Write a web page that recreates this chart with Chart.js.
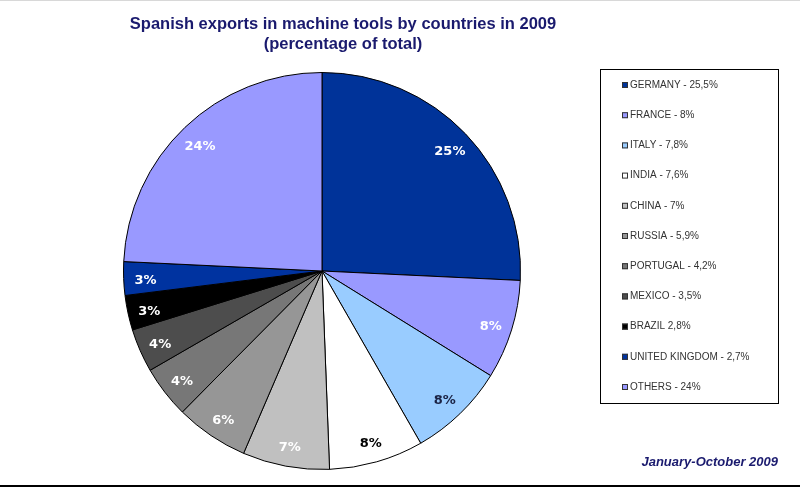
<!DOCTYPE html>
<html>
<head>
<meta charset="utf-8">
<script src="https://cdn.jsdelivr.net/npm/chart.js@4/dist/chart.umd.min.js"></script>
<style>
  html, body { margin:0; padding:0; background:#fff; }
  #wrap { position:relative; width:800px; height:487px; }
  #top { position:absolute; left:0; top:0; width:800px; height:1px; background:#d8d8d8; }
  #bottom { position:absolute; left:0; top:485px; width:800px; height:2px; background:#000; }
</style>
</head>
<body>
<div id="wrap">
  <canvas id="c" width="800" height="487"></canvas>
  <div id="top"></div>
  <div id="bottom"></div>
</div>
<script>
// data
const countries = ['GERMANY - 25,5%', 'FRANCE - 8%', 'ITALY - 7,8%', 'INDIA - 7,6%', 'CHINA - 7%',
  'RUSSIA - 5,9%', 'PORTUGAL - 4,2%', 'MEXICO - 3,5%', 'BRAZIL 2,8%', 'UNITED KINGDOM - 2,7%', 'OTHERS - 24%'];
const shares = [25.5, 8, 7.8, 7.6, 7, 5.9, 4.2, 3.5, 2.8, 2.7, 24];
const sliceLabels = ['25%', '8%', '8%', '8%', '7%', '6%', '4%', '4%', '3%', '3%', '24%'];
const sliceColors = ['#003399', '#9999ff', '#99ccff', '#ffffff', '#c0c0c0', '#969696',
  '#777777', '#4d4d4d', '#000000', '#0033a0', '#9999ff'];
const labelColors = ['#fff', '#fff', '#1a2244', '#000', '#fff', '#fff', '#fff', '#fff', '#fff', '#fff', '#fff'];

// slice percentages
const sliceText = {
  id: 'sliceText',
  afterDatasetsDraw(chart) {
    const ctx = chart.ctx;
    ctx.save();
    ctx.font = 'bold 13px "DejaVu Sans"';
    ctx.textAlign = 'center';
    ctx.textBaseline = 'middle';
    chart.getDatasetMeta(0).data.forEach((arc, i) => {
      const p = arc.getProps(['x', 'y', 'startAngle', 'endAngle', 'outerRadius'], true);
      const a = (p.startAngle + p.endAngle) / 2;
      const r = p.outerRadius * 0.89;
      ctx.fillStyle = labelColors[i];
      ctx.fillText(sliceLabels[i], p.x + Math.cos(a) * r, p.y + Math.sin(a) * r + 3);
    });
    ctx.restore();
  }
};

// titles, boxed legend, date note
const decor = {
  id: 'decor',
  afterDraw(chart) {
    const ctx = chart.ctx;
    ctx.save();
    ctx.fillStyle = '#1a1a6e';
    ctx.textAlign = 'center';
    ctx.textBaseline = 'middle';
    ctx.font = 'bold 16.5px "Liberation Sans", Arial';
    ctx.fillText('Spanish exports in machine tools by countries in 2009', 343, 24);
    ctx.fillText('(percentage of total)', 343, 44);

    ctx.font = 'italic bold 13px "Liberation Sans", Arial';
    ctx.textAlign = 'right';
    ctx.fillText('January-October 2009', 778, 462);

    // legend box
    ctx.strokeStyle = '#000';
    ctx.lineWidth = 1;
    ctx.strokeRect(600.5, 69.5, 178, 334);
    ctx.font = '10px "Liberation Sans", Arial';
    ctx.textAlign = 'left';
    countries.forEach((name, i) => {
      const y = 85 + i * 30.2;
      ctx.fillStyle = sliceColors[i];
      ctx.fillRect(622, y - 3, 6, 6);
      ctx.strokeStyle = '#333';
      ctx.strokeRect(622.5, y - 2.5, 5, 5);
      ctx.fillStyle = '#333';
      ctx.fillText(name, 630, y);
    });
    ctx.restore();
  }
};

new Chart(document.getElementById('c'), {
  type: 'pie',
  data: {
    labels: countries,
    datasets: [{
      data: shares,
      backgroundColor: sliceColors,
      borderColor: '#000',
      borderWidth: 1
    }]
  },
  options: {
    responsive: false,
    animation: false,
    layout: { padding: { left: 123, right: 279, top: 72, bottom: 17 } },
    plugins: {
      legend: { display: false },
      tooltip: { enabled: false }
    }
  },
  plugins: [sliceText, decor]
});
</script>
</body>
</html>
